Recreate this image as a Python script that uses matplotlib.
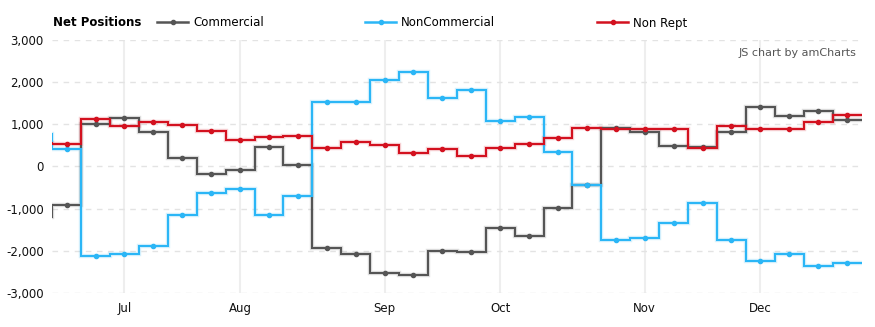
import numpy as np
import pandas as pd
import matplotlib
matplotlib.use('Agg')
import matplotlib.pyplot as plt
from matplotlib.lines import Line2D
from matplotlib.ticker import FuncFormatter

# weekly report dates (first one is just before the visible range, clipped at left edge)
dates = pd.date_range('2017-06-13', periods=29, freq='7D')

commercial = [-1200, -910, 1000, 1145, 815, 195, -190, -95, 455, 30,
              -1935, -2075, -2530, -2560, -2000, -2030, -1460, -1650, -990, -450,
              915, 805, 480, 450, 815, 1405, 1190, 1310, 1095]
noncommercial = [760, 420, -2110, -2080, -1870, -1160, -630, -545, -1160, -705,
                 1525, 1525, 2045, 2235, 1620, 1810, 1075, 1160, 340, -450,
                 -1745, -1685, -1345, -870, -1745, -2245, -2080, -2360, -2290]
nonrept = [560, 530, 1120, 955, 1050, 980, 835, 630, 695, 720,
           435, 575, 505, 315, 410, 245, 435, 530, 670, 910,
           880, 885, 885, 440, 955, 885, 885, 1050, 1215]

series = [('Commercial', commercial, '#555555'),
          ('NonCommercial', noncommercial, '#2bb6f6'),
          ('Non Rept', nonrept, '#d3111f')]

plt.rcParams['font.family'] = 'DejaVu Sans'
fig = plt.figure(figsize=(8.75, 3.27), dpi=100)
ax = fig.add_axes([52.2 / 875, 1 - 293.3 / 327, (861.5 - 52.2) / 875, (293.3 - 39.5) / 327])

n = len(dates)
x = np.arange(n) - 1          # -1 = hidden week before the chart
edges = np.arange(n + 1) - 1.5

for name, vals, col in series:
    ax.stairs(vals, edges, baseline=None, color=col, lw=3.2, alpha=0.18, zorder=3)
    ax.stairs(vals, edges, baseline=None, color=col, lw=1.5, zorder=4)
    ax.plot(x[1:], vals[1:], 'o', color=col, ms=3, zorder=5)

ax.set_xlim(-0.5, n - 1.5)
ax.set_ylim(-3000, 3000)

# month labels at the first week of each month (skip the partial first month)
months = pd.Series(dates[1:].month)
first_idx = [i for i in range(len(months)) if i > 0 and months[i] != months[i - 1]]
ax.set_xticks(first_idx)
ax.set_xticklabels([dates[1 + i].strftime('%b') for i in first_idx])
for i in first_idx:
    ax.axvline(i, color='#eeeeee', lw=1.5, zorder=1)

ax.set_yticks(np.arange(-3000, 3001, 1000))
ax.yaxis.set_major_formatter(FuncFormatter(lambda v, p: f'{int(v):,}'))
for v in np.arange(-3000, 3001, 1000):
    ax.axhline(v, color='#e3e3e3', lw=1, dashes=(4, 4), zorder=1)

ax.tick_params(length=0, labelsize=8.5, colors='#111111')
ax.tick_params(axis='y', pad=6)
ax.tick_params(axis='x', pad=6)
for s in ax.spines.values():
    s.set_visible(False)

# legend
fig.text(53 / 875, 1 - 23 / 327, 'Net Positions', fontsize=8.5, fontweight='bold',
         va='center', ha='left')
for (name, vals, col), lx in zip(series, [157, 365, 597]):
    yy = 1 - 22 / 327
    fig.add_artist(Line2D([lx / 875, (lx + 31) / 875], [yy, yy], color=col, lw=1.8,
                          transform=fig.transFigure))
    fig.add_artist(Line2D([(lx + 15.5) / 875], [yy], color=col, marker='o', ms=3,
                          transform=fig.transFigure))
    fig.text((lx + 36) / 875, 1 - 23 / 327, name, fontsize=8.5, va='center', ha='left')

fig.text(856 / 875, 1 - 53 / 327, 'JS chart by amCharts', fontsize=8, color='#555555',
         ha='right', va='center')

fig.savefig('out.png', dpi=100)
